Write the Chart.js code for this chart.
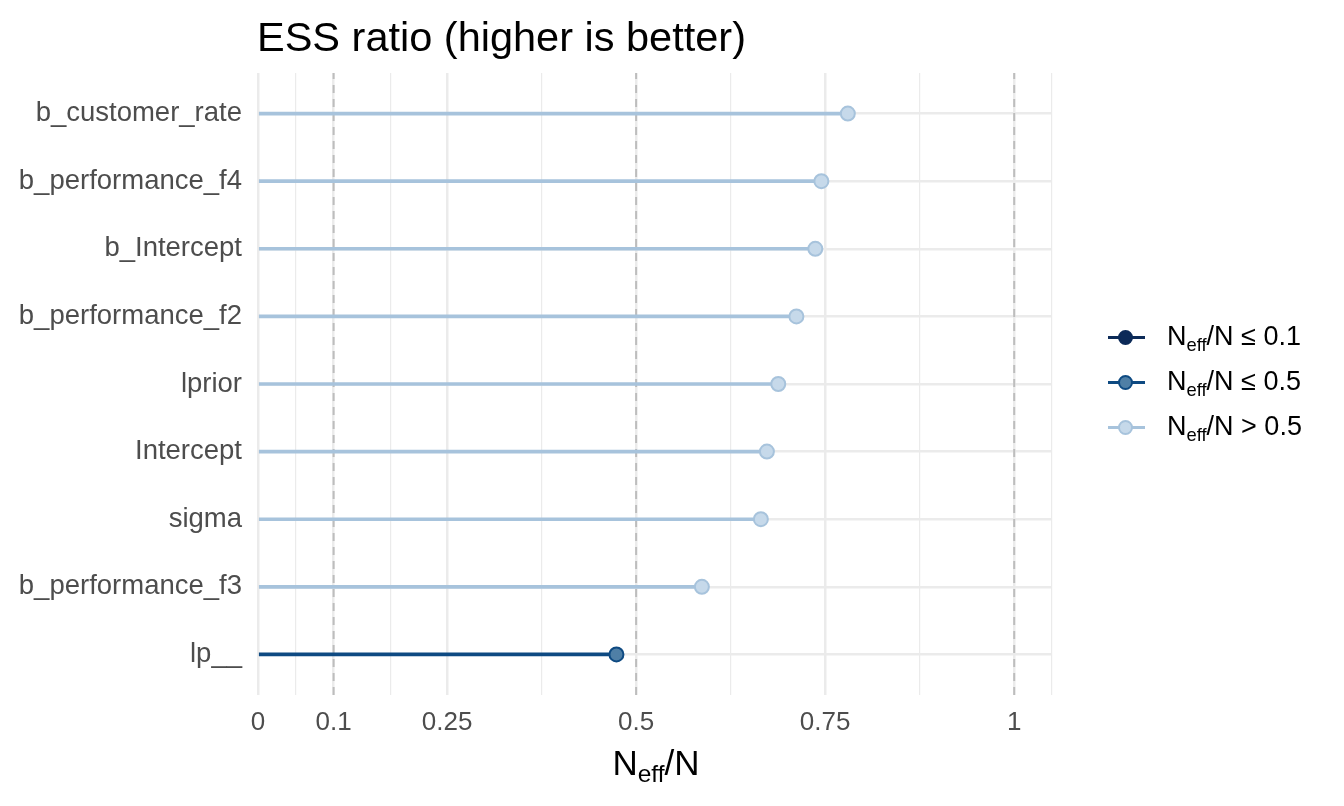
<!DOCTYPE html>
<html><head><meta charset="utf-8">
<script src="https://cdn.jsdelivr.net/npm/chart.js@4.4.1/dist/chart.umd.min.js"></script>
<style>
html,body{margin:0;padding:0;background:#fff;width:1344px;height:806px;overflow:hidden;font-family:"Liberation Sans",Arial,Helvetica,sans-serif;}
#wrap{position:relative;width:1344px;height:806px;}
#c{position:absolute;left:0;top:0;}
.t{position:absolute;white-space:nowrap;line-height:1;}
.t sub{font-size:0.7em;vertical-align:-0.3em;line-height:0;}
.lg{position:absolute;left:1106px;width:240px;height:40px;}
.lg .ln{position:absolute;left:2px;top:18px;width:37px;height:3px;}
.lg .pt{position:absolute;left:12px;top:12px;width:11px;height:11px;border-radius:50%;border-style:solid;border-width:2px;}
.lg .tx{position:absolute;left:61px;top:5px;font-size:27px;color:#000;white-space:nowrap;line-height:1;}
.lg .tx sub{font-size:0.68em;vertical-align:-0.3em;line-height:0;}
</style></head><body>
<div id="wrap">
<canvas id="c" width="1344" height="806"></canvas>
<div class="t" style="left:257px;top:16px;font-size:41.5px;color:#000;">ESS ratio (higher is better)</div>
<div class="t" id="xt" style="left:656px;top:745px;font-size:35px;color:#000;transform:translateX(-50%);">N<sub>eff</sub>/N</div>
<div id="legend"></div>
</div>
<script>
// ---- data ----
const categories = ['lp__','b_performance_f3','sigma','Intercept','lprior','b_performance_f2','b_Intercept','b_performance_f4','b_customer_rate'];
const ratios = [0.474, 0.587, 0.665, 0.673, 0.688, 0.712, 0.737, 0.745, 0.780];
const xBreaks = [0, 0.1, 0.25, 0.5, 0.75, 1];
const xTickLabels = ['0', '0.1', '0.25', '0.5', '0.75', '1'];
const xMinorBreaks = [0.05, 0.175, 0.375, 0.625, 0.875, 1.05];
const refLines = [0.1, 0.5, 1];
const legendLabels = ['\u2264 0.1', '\u2264 0.5', '> 0.5'];

// ---- styles ----
const styles = {
  low:  {line:'#0d2b58', fill:'#0c2a58', stroke:'#0c2a58'},
  mid:  {line:'#0e4a82', fill:'#4f7fa6', stroke:'#0e4a82'},
  high: {line:'#a7c3dc', fill:'#c6d9ea', stroke:'#a7c3dc'}
};
function cls(v){ return v <= 0.1 ? 'low' : (v <= 0.5 ? 'mid' : 'high'); }

const positions = categories.map((c, i) => i + 1);
const pts = ratios.map((v, i) => ({x: v, y: positions[i]}));
const yMin = 0.4, yMax = categories.length + 0.6;
const allX = xBreaks.concat(xMinorBreaks).sort((a,b)=>a-b);

const refDatasets = refLines.map(v => ({
  type: 'line',
  data: [{x: v, y: yMin}, {x: v, y: yMax}],
  borderColor: '#bdbdbd', borderWidth: 2, borderDash: [8, 6],
  pointRadius: 0, order: 5
}));

new Chart(document.getElementById('c'), {
  type: 'scatter',
  data: {
    datasets: refDatasets.concat([
      {
        type: 'bar', indexAxis: 'y',
        data: pts,
        backgroundColor: ratios.map(v => styles[cls(v)].line),
        barThickness: 3, order: 2
      },
      {
        type: 'scatter',
        data: pts,
        pointRadius: 7,
        pointBackgroundColor: ratios.map(v => styles[cls(v)].fill),
        pointBorderColor: ratios.map(v => styles[cls(v)].stroke),
        pointBorderWidth: 2,
        order: 1
      }
    ])
  },
  options: {
    responsive: false, animation: false, devicePixelRatio: 1,
    layout: {padding: {left: 0, right: 1344 - 1052, top: 73, bottom: 0}},
    plugins: {legend: {display: false}, tooltip: {enabled: false}, title: {display: false}},
    scales: {
      x: {
        type: 'linear', min: 0, max: 1.05, offset: false,
        afterBuildTicks: s => { s.ticks = allX.map(v => ({value: v})); },
        afterFit: s => { s.height = 806 - 695; },
        border: {display: false},
        grid: {
          drawTicks: false, offset: false,
          color: '#ebebeb',
          lineWidth: c => (c.tick && xBreaks.includes(c.tick.value)) ? 2.5 : 1.2
        },
        ticks: {
          autoSkip: false, maxRotation: 0, padding: 12,
          color: '#4d4d4d', font: {family: '"Liberation Sans", Arial, sans-serif', size: 26},
          callback: v => { const i = xBreaks.indexOf(v); return i >= 0 ? xTickLabels[i] : ''; }
        }
      },
      y: {
        type: 'linear', min: yMin, max: yMax, offset: false,
        afterBuildTicks: s => { s.ticks = positions.map(v => ({value: v})); },
        afterFit: s => { s.width = 258; },
        border: {display: false},
        grid: {drawTicks: false, offset: false, color: '#ebebeb', lineWidth: 2.5},
        ticks: {
          autoSkip: false, padding: 16,
          color: '#4d4d4d', font: {family: '"Liberation Sans", Arial, sans-serif', size: 27.5},
          callback: v => categories[positions.indexOf(v)] || ''
        }
      }
    }
  }
});

// ---- legend (HTML, for subscripts) ----
const lg = document.getElementById('legend');
const keys = ['low', 'mid', 'high'];
const rowY = [318, 363, 408];
keys.forEach((k, i) => {
  const d = document.createElement('div');
  d.className = 'lg';
  d.style.top = rowY[i] + 'px';
  d.innerHTML = '<div class="ln" style="background:' + styles[k].line + '"></div>' +
    '<div class="pt" style="background:' + styles[k].fill + ';border-color:' + styles[k].stroke + '"></div>' +
    '<div class="tx">N<sub>eff</sub>/N ' + legendLabels[i] + '</div>';
  lg.appendChild(d);
});
</script>
</body></html>
